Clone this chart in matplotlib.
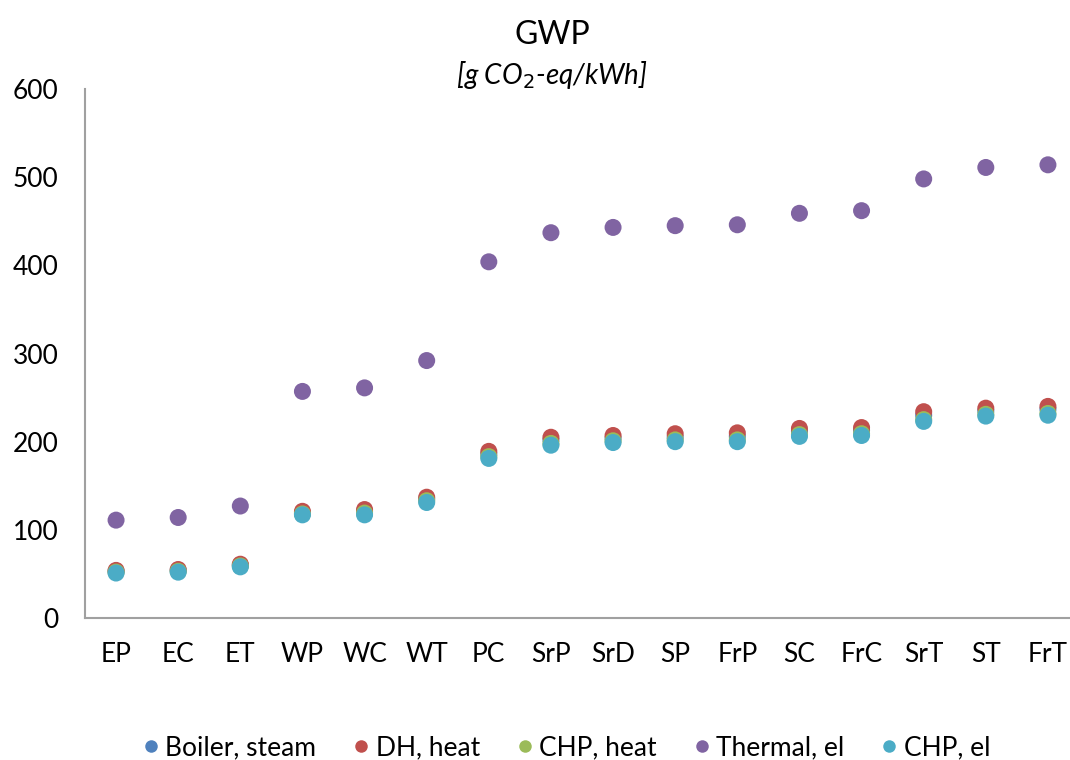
import matplotlib
matplotlib.use("Agg")
import matplotlib.pyplot as plt
from matplotlib.lines import Line2D

categories = ["EP", "EC", "ET", "WP", "WC", "WT", "PC", "SrP", "SrD", "SP",
              "FrP", "SC", "FrC", "SrT", "ST", "FrT"]

boiler_steam = [53, 54, 60, 119, 121, 135, 186, 202, 204, 205, 206, 212, 213, 230, 235, 237]
dh_heat      = [54, 55, 61, 121, 123, 137, 189, 205, 207, 209, 210, 215, 216, 234, 238, 240]
chp_heat     = [52, 53, 59, 118, 119, 133, 183, 198, 201, 202, 202, 208, 209, 225, 231, 232]
thermal_el   = [111, 114, 127, 257, 261, 292, 404, 437, 443, 445, 446, 459, 462, 498, 511, 514]
chp_el       = [51, 52, 58, 117, 117, 131, 181, 196, 199, 200, 200, 206, 207, 223, 229, 230]

series = [
    ("Boiler, steam", boiler_steam, "#4F81BD"),
    ("DH, heat", dh_heat, "#C0504D"),
    ("CHP, heat", chp_heat, "#9BBB59"),
    ("Thermal, el", thermal_el, "#8064A2"),
    ("CHP, el", chp_el, "#4BACC6"),
]

plt.rcParams['font.family'] = ['Lato', 'DejaVu Sans']

fig = plt.figure(figsize=(10.7, 7.6), dpi=100)
ax = fig.add_axes([85/1070, 1-618/760, (1079-85)/1070, (618-89)/760])

x = list(range(len(categories)))
for name, vals, col in series:
    ax.scatter(x, vals, s=150, color=col, edgecolors='none', zorder=3, label=name)

ax.set_xlim(-0.5, len(categories) - 0.5)
ax.set_ylim(0, 600)
ax.set_yticks([0, 100, 200, 300, 400, 500, 600])
ax.set_xticks(x)
ax.set_xticklabels(categories)
ax.tick_params(axis='both', length=0, labelsize=19, colors='black')
ax.tick_params(axis='y', pad=19)
ax.tick_params(axis='x', pad=17)
for s in ['top', 'right']:
    ax.spines[s].set_visible(False)
for s in ['left', 'bottom']:
    ax.spines[s].set_color('#A0A0A0')
    ax.spines[s].set_linewidth(1.5)

fig.text(552/1070, 1-35/760, "GWP", ha='center', va='center', fontsize=23)
fig.text(552/1070, 1-75/760, r"[g CO$_2$-eq/kWh]", ha='center', va='center',
         fontsize=20, style='italic')

handles = [Line2D([0], [0], marker='o', linestyle='none', markersize=9,
                  markerfacecolor=c, markeredgecolor='none') for _, _, c in series]
fig.legend(handles, [n for n, _, _ in series], loc='center', bbox_to_anchor=(564/1070, 1-748/760),
           ncol=5, frameon=False, fontsize=19, handletextpad=0.05, columnspacing=1.2,
           handlelength=1.0)

fig.savefig("out.png", dpi=100)
